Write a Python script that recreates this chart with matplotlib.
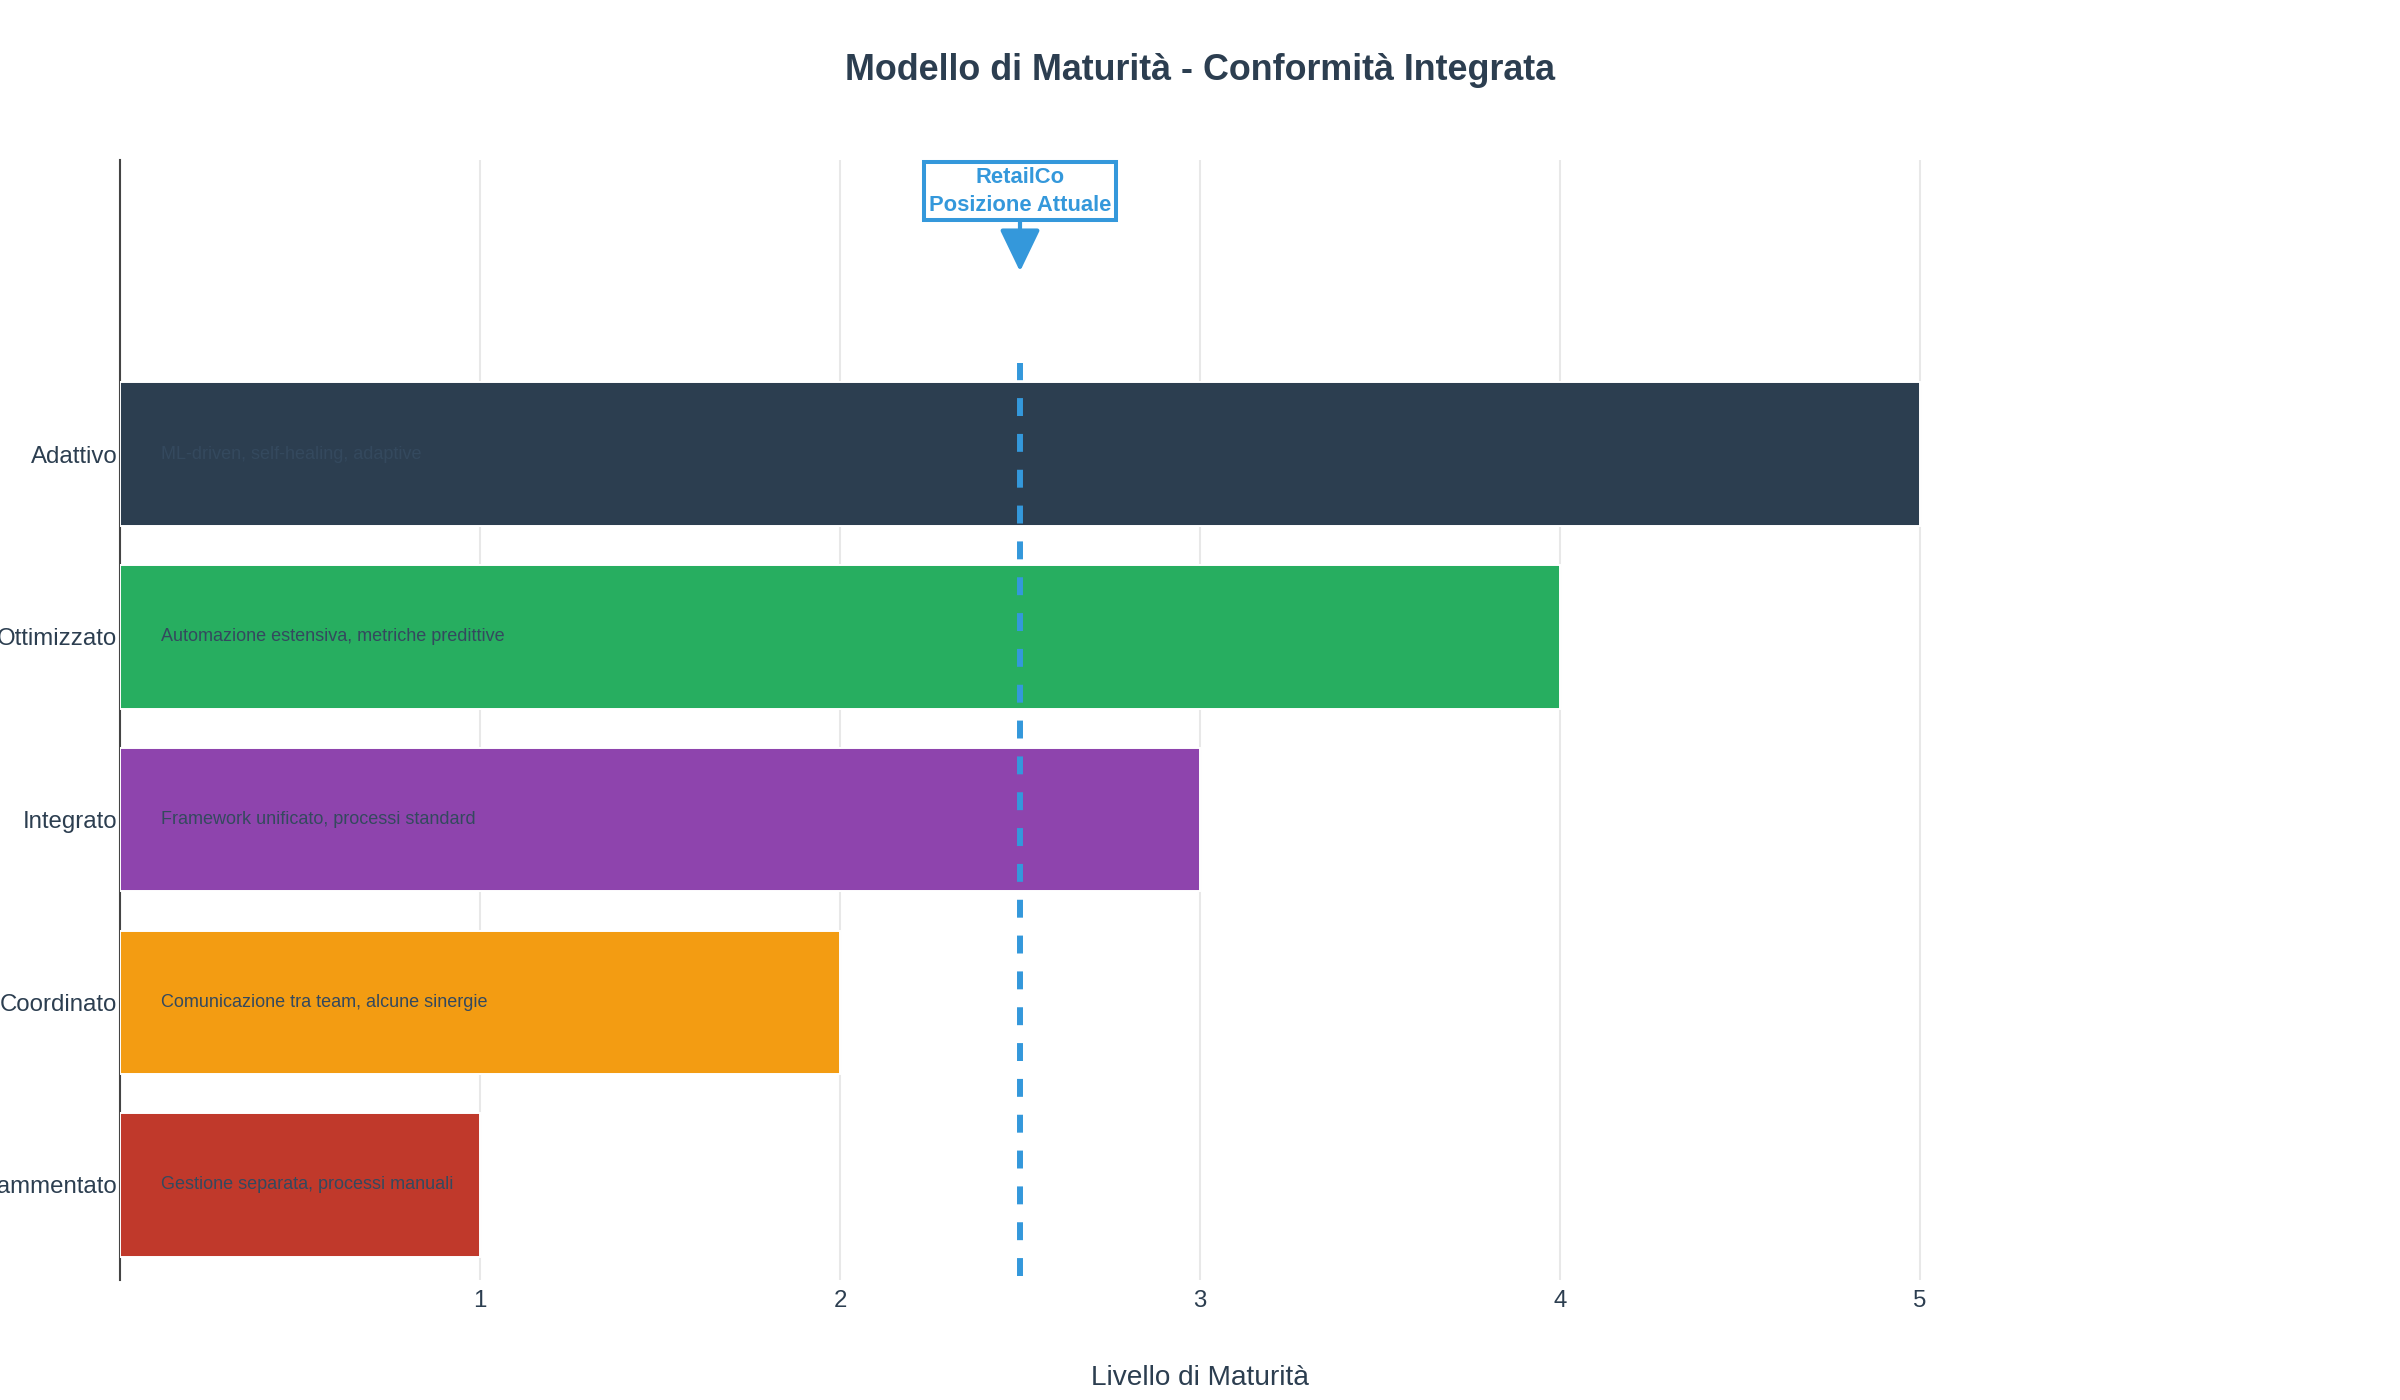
import numpy as np
import matplotlib.pyplot as plt

plt.rcParams['font.family'] = ['Liberation Sans', 'DejaVu Sans']

# data
levels = ['Frammentato', 'Coordinato', 'Integrato', 'Ottimizzato', 'Adattivo']
scores = [1, 2, 3, 4, 5]
descriptions = [
    'Gestione separata, processi manuali',
    'Comunicazione tra team, alcune sinergie',
    'Framework unificato, processi standard',
    'Automazione estensiva, metriche predittive',
    'ML-driven, self-healing, adaptive',
]
colors = ['#c0392b', '#f39c12', '#8e44ad', '#27ae60', '#2c3e50']
current_position = 2.5
x_ticks = [1, 2, 3, 4, 5]

dark = '#2c3e50'
blue = '#3498db'

fig = plt.figure(figsize=(24, 14), dpi=100)
ax = fig.add_axes([0.05, 1 - 1280 / 1400, 0.90, 1120 / 1400])

y = np.arange(len(levels))
ax.barh(y, scores, height=0.785, color=colors, edgecolor='white',
        linewidth=1.4, zorder=2)

for yi, txt in zip(y, descriptions):
    ax.text(0.113, yi, txt, ha='left', va='center', fontsize=13,
            color='#34495e', zorder=3)

# current position marker
ax.plot([current_position, current_position], [-0.5, 4.5], color=blue,
        lw=4.3, dashes=(3, 3), zorder=4)
ax.annotate('RetailCo\nPosizione Attuale', xy=(current_position, 5.0),
            xytext=(0, 57.6), textcoords='offset points',
            ha='center', va='center', fontsize=15.8, fontweight='bold',
            color=blue, linespacing=1.4,
            bbox=dict(boxstyle='square,pad=0.22', fc='white', ec=blue, lw=2.9),
            arrowprops=dict(arrowstyle='-|>,head_length=2.6,head_width=1.25',
                            mutation_scale=10, color=blue, lw=3,
                            shrinkA=0, shrinkB=0),
            zorder=5)

ax.set_xlim(0, 6)
ax.set_ylim(-0.52, 5.61)
ax.set_xticks(x_ticks)
ax.set_xticklabels([str(v) for v in x_ticks])
ax.set_yticks(y)
ax.set_yticklabels(levels)
ax.tick_params(axis='both', length=0, labelsize=17.3, labelcolor=dark)
ax.tick_params(axis='x', pad=7.5)
ax.tick_params(axis='y', pad=2)
ax.grid(axis='x', color='#e8e8e8', lw=1.5, zorder=0)
ax.set_axisbelow(True)

for s in ['top', 'right', 'bottom']:
    ax.spines[s].set_visible(False)
ax.spines['left'].set_color('#444444')
ax.spines['left'].set_linewidth(1.5)
ax.spines['left'].set_zorder(1)

ax.set_xlabel('Livello di Maturità', fontsize=20.2, color=dark, labelpad=38)

fig.text(0.5, 1 - 80 / 1400, 'Modello di Maturità - Conformità Integrata',
         ha='center', va='baseline', fontsize=25.8, fontweight='bold',
         color=dark)

fig.savefig('out.png', dpi=100)
